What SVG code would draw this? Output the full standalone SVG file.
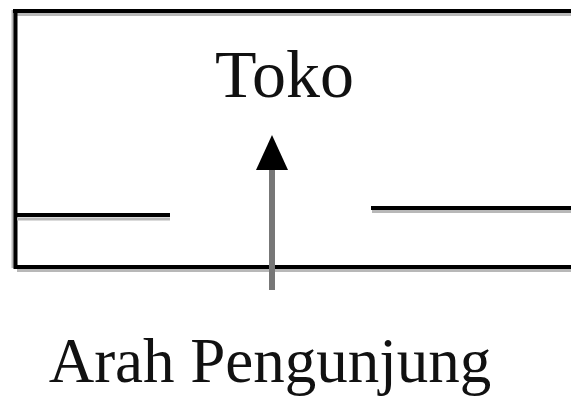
<svg xmlns="http://www.w3.org/2000/svg" width="571" height="396" viewBox="0 0 571 396">
  <style>
    .wall { stroke: #000; stroke-width: 4; fill: none; }
    .shade { stroke: #b8b8b8; stroke-width: 3; fill: none; }
    .lbl { font-family: "Liberation Serif", "Times New Roman", serif; fill: #111; text-anchor: middle; }
  </style>
  <rect width="571" height="396" fill="#fff"/>
  <g id="toko">
    <line class="shade" x1="17" y1="14.5" x2="571" y2="14.5"/>
    <line class="shade" x1="13" y1="10" x2="13" y2="268"/>
    <line class="wall" x1="13" y1="11" x2="571" y2="11"/>
    <line class="wall" x1="15.5" y1="9" x2="15.5" y2="269"/>
    <line class="shade" x1="17" y1="219" x2="170" y2="219"/>
    <line class="wall" x1="14" y1="215" x2="170" y2="215"/>
    <line class="shade" x1="372" y1="211.5" x2="571" y2="211.5"/>
    <line class="wall" x1="371" y1="208" x2="571" y2="208"/>
    <line class="shade" x1="17" y1="270.5" x2="571" y2="270.5"/>
    <line class="wall" x1="14" y1="267" x2="571" y2="267"/>
    <text class="lbl" x="284.5" y="97" font-size="68">Toko</text>
  </g>
  <g id="connectors">
    <line x1="272" y1="168" x2="272" y2="290" stroke="#777" stroke-width="6"/>
    <polygon points="272,135 256,170 288,170" fill="#000"/>
  </g>
  <g id="arah">
    <text class="lbl" x="270" y="382" font-size="63">Arah Pengunjung</text>
  </g>
</svg>
